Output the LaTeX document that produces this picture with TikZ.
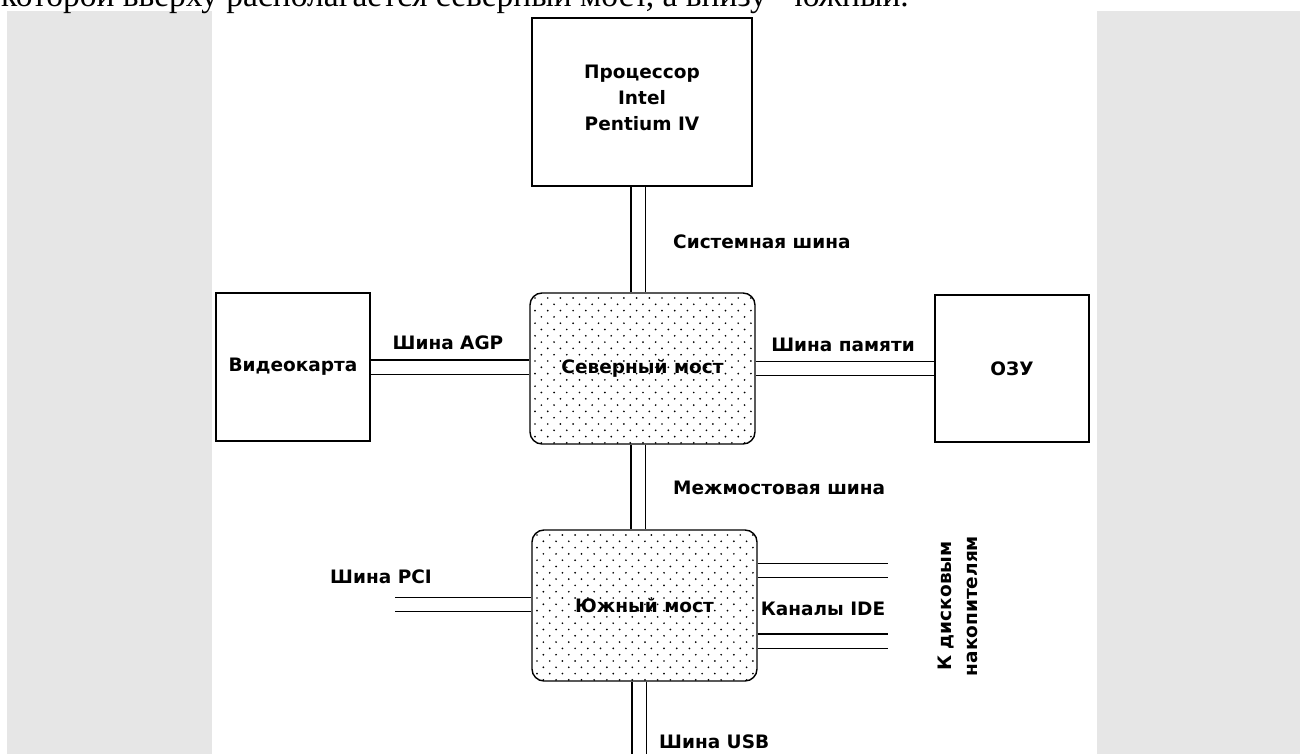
\documentclass[tikz,border=0pt]{standalone}
\usepackage{fontspec}
\newfontfamily\diagfont{DejaVu Sans}
\newfontfamily\pagefont{Liberation Serif}
\definecolor{panelgray}{RGB}{230,230,230}
\usetikzlibrary{calc}

\begin{document}
\begin{tikzpicture}[x=1pt,y=-1pt,
  font=\diagfont\bfseries\fontsize{18.5}{26}\selectfont,
  unit/.style={draw,line width=1.4pt,minimum width=154pt,minimum height=148pt,inner sep=0pt},
  bridge/.style={draw,line width=1.4pt,rounded corners=12pt,minimum width=225pt,
    minimum height=151pt,inner sep=0pt,
    path picture={
      \foreach \row in {0,...,24} {
        \pgfmathsetmacro{\dotx}{mod(\row,2)*6.35+5}
        \pgfmathsetmacro{\doty}{\row*6.3+5}
        \foreach \col in {0,...,18}
          \fill ($(path picture bounding box.north west)+(\col*12.7+\dotx,\doty)$)
            circle[radius=0.95pt];
      }}},
  bus/.style={double,double distance=13pt,line width=1.4pt},
  lab/.style={inner sep=0pt}
]
\useasboundingbox (0,0) rectangle (1307,754);
\fill[panelgray] (7,11) rectangle (212,754);
\fill[panelgray] (1097,11) rectangle (1300,754);
\node[anchor=base west,inner sep=0pt,font=\pagefont\fontsize{33.5}{40}\selectfont] (intro) at (1,7)
  {которой вверху располагается северный мост, а внизу - южный.};

% units
\node[unit,minimum width=220pt,minimum height=168pt] (cpu) at (642,102) {};
\node[align=center] (cputxt) at (642,98) {Процессор\\Intel\\Pentium IV};
\node[unit] (gpu) at (293,367) {Видеокарта};
\node[unit,minimum height=147pt] (ram) at (1012,368.5) {ОЗУ};
\node[bridge] (nb) at (642.5,368.5) {Северный мост};
\node[bridge] (sb) at (644.5,605.5) {Южный мост};

% free bus ends
\coordinate (pci) at (395,604.5);
\coordinate (ide1) at (888,570.5);
\coordinate (ide2) at (888,641);
\coordinate (usb) at (639,760);

% buses
\draw[bus] ([xshift=-4pt]cpu.south) -- ([xshift=-4pt]cpu.south |- nb.north);
\draw[bus] (gpu.east) -- (gpu.east -| nb.west);
\draw[bus] (nb.east) -- (nb.east -| ram.west);
\draw[bus] ([xshift=-4.5pt]nb.south) -- ([xshift=-4.5pt]nb.south |- sb.north);
\draw[bus] (pci) -- (pci -| sb.west);
\draw[bus] (ide1 -| sb.east) -- (ide1);
\draw[bus] (ide2 -| sb.east) -- (ide2);
\draw[bus] (usb |- sb.south) -- (usb);

% bus labels
\node[lab,anchor=west] (sysbus) at (673,242) {Системная шина};
\node[lab] (agp) at (448,343) {Шина AGP};
\node[lab] (membus) at (843,345) {Шина памяти};
\node[lab,anchor=west] (hubbus) at (673,488) {Межмостовая шина};
\node[lab] (pcibus) at (381,577) {Шина PCI};
\node[lab] (ide) at (823,609) {Каналы IDE};
\node[lab,rotate=90,align=center] (disks) at (958,606) {К дисковым\\накопителям};
\node[lab,anchor=west] (usbbus) at (659,742) {Шина USB};
\end{tikzpicture}
\end{document}
